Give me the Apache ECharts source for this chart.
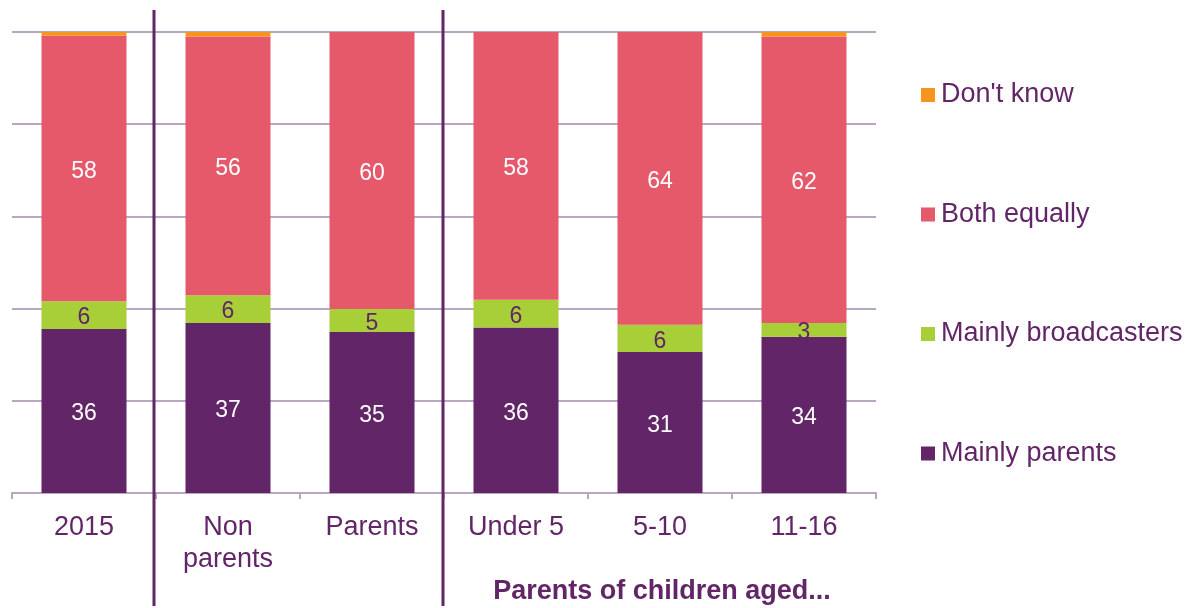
<!DOCTYPE html>
<html>
<head>
<meta charset="utf-8">
<script src="https://cdn.jsdelivr.net/npm/echarts@6/dist/echarts.min.js"></script>
<style>
html,body{margin:0;padding:0;background:#fff;}
#chart{width:1193px;height:608px;}
</style>
</head>
<body>
<div id="chart"></div>
<script>
const categories = ['2015', 'Non\nparents', 'Parents', 'Under 5', '5-10', '11-16'];
const mainlyParents = [35.6, 36.9, 34.9, 35.9, 30.6, 33.9];
const mainlyBroadcasters = [6.0, 6.0, 5.0, 6.0, 5.9, 3.0];
const bothEqually = [57.6, 56.1, 60.1, 58.1, 63.5, 62.1];
const dontKnow = [0.8, 1.0, 0, 0, 0, 1.0];
const groupTitle = 'Parents of children aged...';

const PURPLE = '#622567';
const GRID = '#b9a6bf';
const FONT = '"Liberation Sans", Arial, sans-serif';

const chart = echarts.init(document.getElementById('chart'));

function seriesDef(name, data, color, labelColor, showLabel) {
  return {
    name: name,
    type: 'bar',
    stack: 'total',
    data: data,
    barWidth: 85,
    itemStyle: { color: color },
    label: {
      show: showLabel,
      position: 'inside',
      offset: [0, 3],
      color: labelColor,
      fontSize: 23,
      fontFamily: FONT,
      formatter: p => Math.round(p.value)
    },
    emphasis: { disabled: true }
  };
}

const option = {
  animation: false,
  textStyle: { fontFamily: FONT },
  grid: { left: 12, right: 317, top: 32, bottom: 115, containLabel: false },
  xAxis: {
    type: 'category',
    data: categories,
    axisLine: { lineStyle: { color: GRID, width: 2 } },
    axisTick: { show: true, length: 6, lineStyle: { color: GRID, width: 2 } },
    axisLabel: { color: PURPLE, fontSize: 27, fontFamily: FONT, margin: 19, lineHeight: 32, interval: 0 }
  },
  yAxis: {
    type: 'value',
    min: 0, max: 100, interval: 20,
    axisLabel: { show: false },
    axisLine: { show: false },
    axisTick: { show: false },
    splitLine: { lineStyle: { color: GRID, width: 2 } }
  },
  legend: {
    orient: 'vertical',
    left: 921,
    top: 80,
    padding: 0,
    itemWidth: 14,
    itemHeight: 14,
    itemGap: 89.5,
    icon: 'rect',
    data: ["Don't know", 'Both equally', 'Mainly broadcasters', 'Mainly parents'],
    textStyle: { color: PURPLE, fontSize: 27, fontFamily: FONT, lineHeight: 30, padding: [0, 0, 0, 1] }
  },
  series: [
    seriesDef('Mainly parents', mainlyParents, PURPLE, '#ffffff', true),
    seriesDef('Mainly broadcasters', mainlyBroadcasters, '#a8ce38', PURPLE, true),
    seriesDef('Both equally', bothEqually, '#e5596a', '#ffffff', true),
    seriesDef("Don't know", dontKnow, '#f7941d', PURPLE, false)
  ]
};
chart.setOption(option);

// separators at the category boundaries between groups
const c0 = chart.convertToPixel({ xAxisIndex: 0 }, 0);
const c1 = chart.convertToPixel({ xAxisIndex: 0 }, 1);
const c2 = chart.convertToPixel({ xAxisIndex: 0 }, 2);
const c3 = chart.convertToPixel({ xAxisIndex: 0 }, 3);
const c5 = chart.convertToPixel({ xAxisIndex: 0 }, 5);
const sep1 = (c0 + c1) / 2 - 2;
const sep2 = (c2 + c3) / 2 - 1;
chart.setOption({
  graphic: [
    { type: 'line', shape: { x1: sep1, y1: 10, x2: sep1, y2: 606 }, style: { stroke: PURPLE, lineWidth: 3 }, z: 10 },
    { type: 'line', shape: { x1: sep2, y1: 10, x2: sep2, y2: 606 }, style: { stroke: PURPLE, lineWidth: 3 }, z: 10 },
    { type: 'text', x: (c3 + c5) / 2 + 2, y: 592,
      style: { text: groupTitle, fill: PURPLE, font: 'bold 27px ' + FONT, textAlign: 'center', textVerticalAlign: 'middle' } }
  ]
});
</script>
</body>
</html>
